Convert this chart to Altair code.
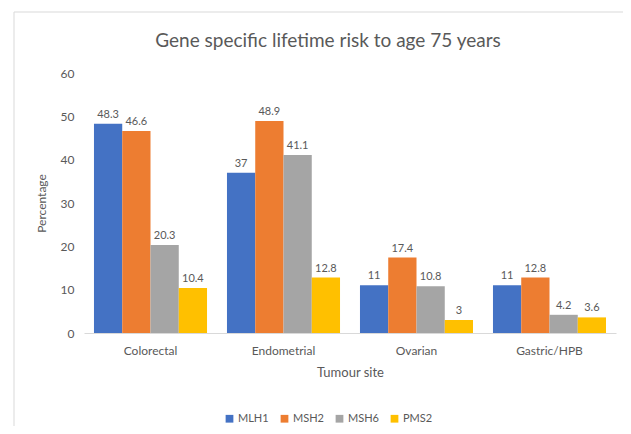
import altair as alt
import pandas as pd

sites = ["Colorectal", "Endometrial", "Ovarian", "Gastric/HPB"]
genes = ["MLH1", "MSH2", "MSH6", "PMS2"]
mlh1 = [48.3, 37, 11, 11]
msh2 = [46.6, 48.9, 17.4, 12.8]
msh6 = [20.3, 41.1, 10.8, 4.2]
pms2 = [10.4, 12.8, 3, 3.6]
colors = ["#4472C4", "#ED7D31", "#A5A5A5", "#FFC000"]
title_text = "Gene specific  lifetime risk to age 75 years"

rows = []
for g, vals in zip(genes, [mlh1, msh2, msh6, pms2]):
    for s, v in zip(sites, vals):
        rows.append({"site": s, "gene": g, "value": v, "label": f"{v:g}"})
df = pd.DataFrame(rows)

FONT = "Lato"
GREY = "#595959"

base = alt.Chart(df).encode(
    x=alt.X("site:N", sort=sites, title="Tumour site",
            scale=alt.Scale(paddingInner=0.15, paddingOuter=0.075),
            axis=alt.Axis(labelAngle=0, ticks=False, domainColor="#d9d9d9",
                          labelPadding=12, titlePadding=10, labelFontSize=12,
                          titleFontSize=13, labelColor=GREY, titleColor=GREY,
                          labelFont=FONT, titleFont=FONT, titleFontWeight="normal")),
    xOffset=alt.XOffset("gene:N", sort=genes, scale=alt.Scale(paddingInner=0)),
    y=alt.Y("value:Q", title="Percentage",
            scale=alt.Scale(domain=[0, 60]),
            axis=alt.Axis(values=[0, 10, 20, 30, 40, 50, 60], grid=False,
                          domain=False, ticks=False, labelPadding=10,
                          titlePadding=12, labelFontSize=12, titleFontSize=12,
                          labelColor=GREY, titleColor=GREY, labelFont=FONT,
                          titleFont=FONT, titleFontWeight="normal")),
)

bars = base.mark_bar().encode(
    color=alt.Color("gene:N", sort=genes, title=None,
                    scale=alt.Scale(domain=genes, range=colors),
                    legend=alt.Legend(orient="none", direction="horizontal",
                                      legendX=140, legendY=340,
                                      symbolType="square", symbolSize=60,
                                      symbolStrokeWidth=0, labelFontSize=11,
                                      labelColor=GREY, labelFont=FONT,
                                      columnPadding=10, labelOffset=3))
)

texts = base.mark_text(dy=-9, fontSize=11, color=GREY, font=FONT).encode(
    text="label:N"
)

border = alt.Chart(alt.Data(values=[{"a": 1}])).mark_rect(
    fill="transparent", stroke="#d9d9d9", strokeWidth=1
).encode(
    x=alt.value(-70), x2=alt.value(560), y=alt.value(-61), y2=alt.value(370)
)

title = alt.Chart(alt.Data(values=[{"t": title_text}])).mark_text(
    fontSize=19, font=FONT, color=GREY, align="center", baseline="middle"
).encode(
    x=alt.value(244), y=alt.value(-32), text="t:N"
)

chart = alt.layer(border, bars, texts, title).properties(
    width=532, height=260,
    autosize=alt.AutoSizeParams(type="none"),
    padding={"left": 76, "top": 65, "right": 7, "bottom": 93},
).configure_view(stroke=None)

chart.save("out.html", embed_options={"renderer": "svg", "actions": False})
